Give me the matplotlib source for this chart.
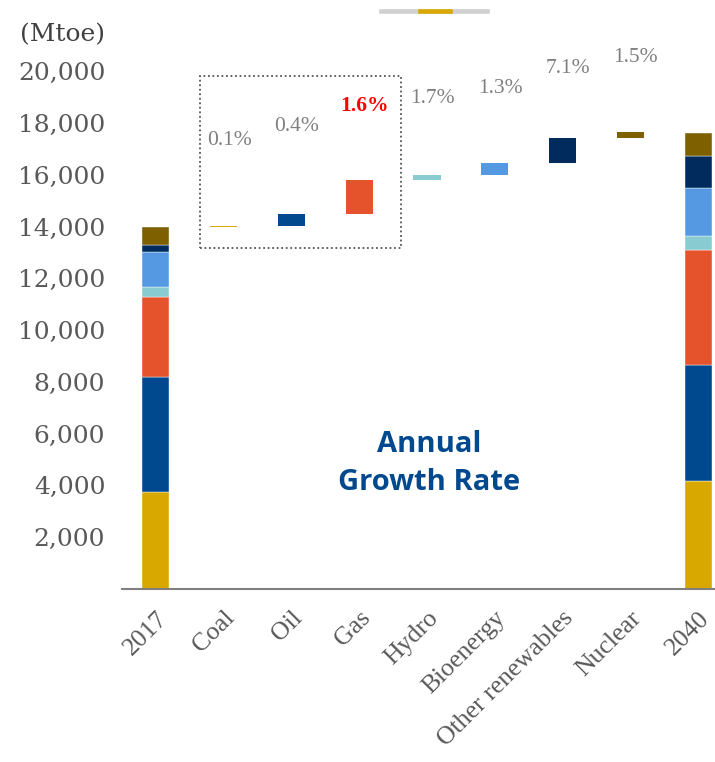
import matplotlib.pyplot as plt
from matplotlib.patches import Rectangle
from matplotlib.lines import Line2D

# fuels in stacking order (bottom -> top)
fuels = ["Coal", "Oil", "Gas", "Hydro", "Bioenergy", "Other renewables", "Nuclear"]
colors = ["#D9A800", "#00498F", "#E5532D", "#88CBD1", "#5599E2", "#002B5C", "#7E6000"]

# Mtoe
demand_2017 = [3750, 4435, 3107, 353, 1385, 249, 688]
demand_2040 = [4170, 4500, 4410, 550, 1850, 1225, 915]
increase = [70, 440, 1324, 180, 463, 977, 220]
growth_labels = ["0.1%", "0.4%", "1.6%", "1.7%", "1.3%", "7.1%", "1.5%"]

categories = ["2017"] + fuels + ["2040"]
yticks = [2000, 4000, 6000, 8000, 10000, 12000, 14000, 16000, 18000, 20000]

# label lift above each waterfall bar (points)
label_lift = [61, 63, 53, 55, 54, 50, 54]

grey = "#595959"

fig = plt.figure(figsize=(7.15, 7.62), dpi=100)
ax = fig.add_axes([0.1706, 0.227, 0.8294, 0.7034])

w = 0.4
# 2017 stacked bar
bottom = 0
for v, c in zip(demand_2017, colors):
    ax.bar(0, v, w, bottom=bottom, color=c, edgecolor="white", linewidth=0.3)
    bottom += v

# waterfall steps
for i, (inc, c) in enumerate(zip(increase, colors)):
    ax.bar(i + 1, inc, w, bottom=bottom, color=c, edgecolor="none")
    top = bottom + inc
    bold = growth_labels[i] == "1.6%"
    ax.annotate(growth_labels[i], (i + 1, top), xytext=(4, label_lift[i]),
                textcoords="offset points", ha="center", va="center",
                family="Liberation Serif", fontsize=15.5,
                color="#FF0000" if bold else "#7F7F7F",
                fontweight="bold" if bold else "normal")
    bottom = top

# 2040 stacked bar
bottom = 0
for v, c in zip(demand_2040, colors):
    ax.bar(len(categories) - 1, v, w, bottom=bottom, color=c, edgecolor="white", linewidth=0.3)
    bottom += v

# dotted box round coal / oil / gas
ax.add_patch(Rectangle((0.65, 13170), 2.97, 6640, fill=False, linestyle=(0, (1, 1.5)),
                       edgecolor="#555555", linewidth=1.3))

ax.text(4.03, 4840, "Annual\nGrowth Rate", ha="center", va="center", family="Open Sans",
        fontweight="bold", fontsize=21, color="#00498F", linespacing=1.42)

ax.set_xlim(-0.5, 8.25)
ax.set_ylim(0, 20700)
ax.set_xticks(range(len(categories)))
ax.set_xticklabels(categories, rotation=45, ha="right", rotation_mode="anchor",
                   family="Liberation Serif", fontsize=18.5, color=grey)
ax.set_yticks(yticks)
ax.set_yticklabels([f"{t:,}" for t in yticks], family="DejaVu Serif", fontsize=18, color=grey)
ax.tick_params(axis="both", length=0)
ax.tick_params(axis="y", pad=12)
ax.tick_params(axis="x", pad=13)
for s in ["left", "right", "top"]:
    ax.spines[s].set_visible(False)
ax.spines["bottom"].set_color("#808080")
ax.spines["bottom"].set_linewidth(1.5)

fig.text(0.087, 0.955, "(Mtoe)", ha="center", va="center", family="DejaVu Serif",
         fontsize=18, color="#404040")

# slide decoration at the top
fig.add_artist(Line2D([381 / 715, 487 / 715], [0.985, 0.985], color="#D0D0D0", linewidth=3.3))
fig.add_artist(Line2D([420 / 715, 450 / 715], [0.985, 0.985], color="#D9A800", linewidth=3.3))

fig.savefig("out.png", dpi=100)
